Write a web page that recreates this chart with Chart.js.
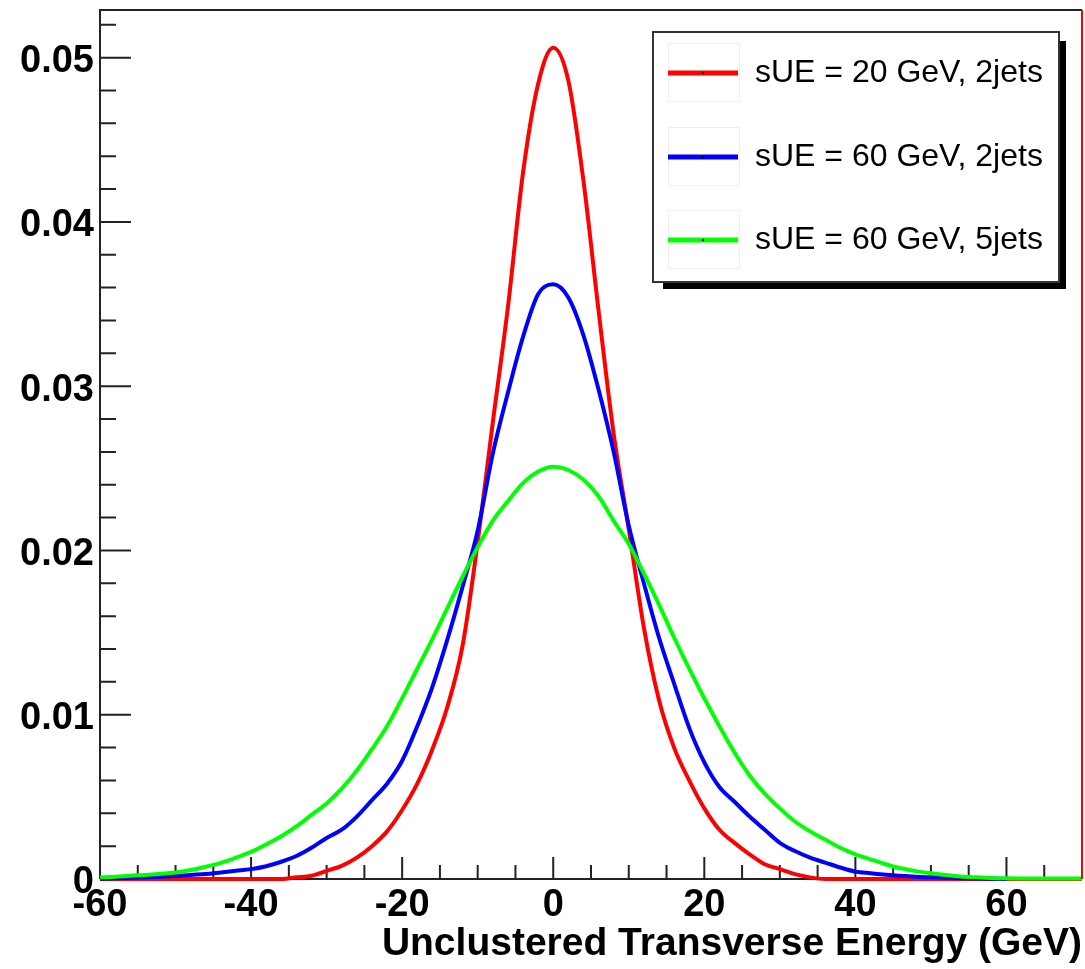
<!DOCTYPE html>
<html>
<head>
<meta charset="utf-8">
<title>Unclustered Transverse Energy</title>
<script src="https://cdn.jsdelivr.net/npm/chart.js@4.4.1/dist/chart.umd.min.js"></script>
<style>
  html, body { margin: 0; padding: 0; background: #fff; }
  canvas { display: block; }
</style>
</head>
<body>
<canvas id="energyChart" width="1085" height="969"></canvas>
<script>
// bin centres (GeV)
const energyBins = [-60, -58, -56, -54, -52, -50, -48, -46, -44, -42, -40, -38, -36, -34, -32, -30,
  -28, -26, -24, -22, -20, -18, -16, -14, -12, -10, -8, -6, -4, -2, 0, 2, 4, 6, 8, 10, 12, 14,
  16, 18, 20, 22, 24, 26, 28, 30, 32, 34, 36, 38, 40, 42, 44, 46, 48, 50, 52, 54, 56, 58, 60,
  62, 64, 66, 68, 70];

// sUE = 20 GeV, 2jets
const red20_2j = [0, 0, 0, 0, 0, 0, 0, 0, 0, 0, 0, 0, 0, 0.0001, 0.0002, 0.0005,
  0.0008, 0.0013, 0.0020, 0.0029, 0.0042, 0.0058, 0.0079, 0.0105, 0.0142, 0.0205, 0.0278, 0.0348, 0.0430, 0.0484, 0.0506, 0.0486, 0.0425, 0.0346, 0.0271, 0.0213, 0.0153, 0.0109,
  0.0080, 0.0060, 0.0043, 0.0030, 0.0022, 0.0015, 0.0009, 0.0006, 0.0003, 0.0001, 0, 0, 0, 0, 0, 0, 0, 0, 0, 0, 0, 0, 0,
  0, 0, 0, 0, 0];

// sUE = 60 GeV, 2jets
const blue60_2j = [0.00002, 0.00004, 0.00007, 0.0001, 0.00014, 0.00019, 0.00025, 0.0003, 0.0004, 0.0005, 0.0006, 0.00078, 0.00105, 0.0014, 0.0019, 0.0025,
  0.0030, 0.0038, 0.0048, 0.0058, 0.0072, 0.0093, 0.0117, 0.0146, 0.0178, 0.0212, 0.0259, 0.0296, 0.0330, 0.0356, 0.0362, 0.0354, 0.0331, 0.0298, 0.0260, 0.0215, 0.0180, 0.0147,
  0.0119, 0.0092, 0.0071, 0.0056, 0.0047, 0.0038, 0.0030, 0.0022, 0.0017, 0.0013, 0.0010, 0.0007, 0.00045, 0.00035, 0.00026, 0.0002, 0.00014, 0.0001, 0.00007, 0.00005, 0.00003, 0.00001, 0,
  null, null, null, null, null];

// sUE = 60 GeV, 5jets
const green60_5j = [0.0001, 0.00014, 0.0002, 0.00025, 0.00032, 0.0004, 0.00055, 0.00075, 0.00098, 0.0013, 0.00165, 0.0021, 0.0026, 0.0032, 0.0039, 0.0046,
  0.0055, 0.0066, 0.0079, 0.0093, 0.0110, 0.0128, 0.0146, 0.0165, 0.0184, 0.0202, 0.0218, 0.0230, 0.0241, 0.0248, 0.0251, 0.0249, 0.0243, 0.0233, 0.0218, 0.0204, 0.0186, 0.0167,
  0.0147, 0.0128, 0.0110, 0.0093, 0.0077, 0.0063, 0.0052, 0.0043, 0.0035, 0.0029, 0.0024, 0.0019, 0.0015, 0.0012, 0.0009, 0.00065, 0.00048, 0.00035, 0.00024, 0.00015, 0.0001, 0.00006, 0.00004,
  0.00003, 0.00003, 0.00003, 0.00003, 0.00003];

const seriesLabels = ['sUE = 20 GeV, 2jets', 'sUE = 60 GeV, 2jets', 'sUE = 60 GeV, 5jets'];
const seriesColors = ['#ff0000', '#0000ff', '#00ff00'];

const xTickValues = [-60, -40, -20, 0, 20, 40, 60];
const yTickValues = [0, 0.01, 0.02, 0.03, 0.04, 0.05];
const xTitle = 'Unclustered Transverse Energy (GeV)';

const FONT = '"Liberation Sans", Arial, Helvetica, sans-serif';

function toPoints(values) {
    return energyBins.map((e, i) => ({ x: e, y: values[i] }));
}

// ROOT style frame with ticks pointing inwards
const frameTicks = {
    id: 'frameTicks',
    beforeDatasetsDraw(chart) {
        const { ctx, chartArea: a, scales } = chart;
        const x = scales.x, y = scales.y;
        ctx.save();
        ctx.strokeStyle = '#222';
        ctx.lineWidth = 2;
        ctx.beginPath();
        ctx.moveTo(a.left, a.bottom);
        ctx.lineTo(a.left, a.top);
        ctx.lineTo(a.right, a.top);
        ctx.moveTo(a.left, a.bottom);
        ctx.lineTo(a.right, a.bottom);
        ctx.stroke();

        ctx.beginPath();
        for (let i = 0; i <= 26; i++) {
            const p = y.getPixelForValue(i * 0.002);
            const len = i % 5 === 0 ? 31 : 16;
            ctx.moveTo(a.left, p);
            ctx.lineTo(a.left + len, p);
        }
        for (let v = -60; v <= 65; v += 5) {
            const p = x.getPixelForValue(v);
            const len = v % 20 === 0 ? 22 : 14;
            ctx.moveTo(p, a.bottom);
            ctx.lineTo(p, a.bottom - len);
        }
        ctx.stroke();
        ctx.restore();
    },
    afterDatasetsDraw(chart) {
        const { ctx, chartArea: a } = chart;
        ctx.save();
        ctx.strokeStyle = '#ff0000';
        ctx.lineWidth = 2;
        ctx.beginPath();
        ctx.moveTo(a.right, a.top);
        ctx.lineTo(a.right, a.bottom);
        ctx.stroke();
        ctx.restore();
    }
};

// legend box with drop shadow
const rootLegend = {
    id: 'rootLegend',
    afterDraw(chart) {
        const ctx = chart.ctx;
        ctx.save();
        ctx.fillStyle = '#000';
        ctx.fillRect(663, 41, 403, 248);
        ctx.fillStyle = '#fff';
        ctx.fillRect(653, 32, 406, 250);
        ctx.strokeStyle = '#333';
        ctx.lineWidth = 2;
        ctx.strokeRect(653, 32, 406, 250);

        const rows = [73, 157, 240];
        chart.data.datasets.forEach((ds, i) => {
            const ry = rows[i];
            ctx.strokeStyle = '#eeeeee';
            ctx.lineWidth = 1;
            ctx.strokeRect(668.5, ry - 29.5, 71, 58);
            ctx.strokeStyle = ds.borderColor;
            ctx.lineWidth = 5;
            ctx.beginPath();
            ctx.moveTo(668, ry);
            ctx.lineTo(738, ry);
            ctx.stroke();
            ctx.fillStyle = '#000';
            ctx.beginPath();
            ctx.arc(703, ry, 1.2, 0, Math.PI * 2);
            ctx.fill();
            ctx.fillStyle = '#000';
            ctx.font = '32px ' + FONT;
            ctx.textBaseline = 'middle';
            ctx.textAlign = 'left';
            ctx.fillText(ds.label, 755, ry);
        });
        ctx.restore();
    }
};

const datasets = [red20_2j, blue60_2j, green60_5j].map((vals, i) => ({
    label: seriesLabels[i],
    data: toPoints(vals),
    borderColor: seriesColors[i],
    backgroundColor: seriesColors[i],
    borderWidth: 4,
    pointRadius: 0,
    fill: false,
    clip: false,
    cubicInterpolationMode: 'monotone',
    order: 3 - i
}));

const tickFont = { family: FONT, size: 38, weight: 'bold' };

new Chart(document.getElementById('energyChart'), {
    type: 'line',
    data: { datasets: datasets },
    options: {
        responsive: false,
        devicePixelRatio: 1,
        animation: false,
        layout: { padding: { top: 10, right: 3, left: 0, bottom: 0 } },
        plugins: {
            legend: { display: false },
            tooltip: { enabled: false }
        },
        scales: {
            x: {
                type: 'linear',
                min: -60,
                max: 70,
                grid: { display: false, drawTicks: false },
                border: { display: false },
                afterBuildTicks: s => { s.ticks = xTickValues.map(v => ({ value: v })); },
                afterFit: s => { s.height = 90; s.paddingLeft = 0; s.paddingRight = 0; },
                ticks: {
                    padding: 4,
                    color: '#000',
                    font: tickFont,
                    maxRotation: 0,
                    autoSkip: false,
                    callback: v => String(v)
                },
                title: {
                    display: true,
                    text: xTitle,
                    align: 'end',
                    color: '#000',
                    font: { family: FONT, size: 39, weight: 'bold' },
                    padding: { top: 0, bottom: 1 }
                }
            },
            y: {
                type: 'linear',
                min: 0,
                max: 0.0529,
                grid: { display: false, drawTicks: false },
                border: { display: false },
                afterBuildTicks: s => { s.ticks = yTickValues.map(v => ({ value: v })); },
                afterFit: s => { s.width = 100; s.paddingTop = 0; s.paddingBottom = 0; },
                ticks: {
                    padding: 6,
                    labelOffset: 4,
                    color: '#000',
                    font: tickFont,
                    callback: v => v === 0 ? '0' : v.toFixed(2)
                }
            }
        }
    },
    plugins: [frameTicks, rootLegend]
});
</script>
</body>
</html>
